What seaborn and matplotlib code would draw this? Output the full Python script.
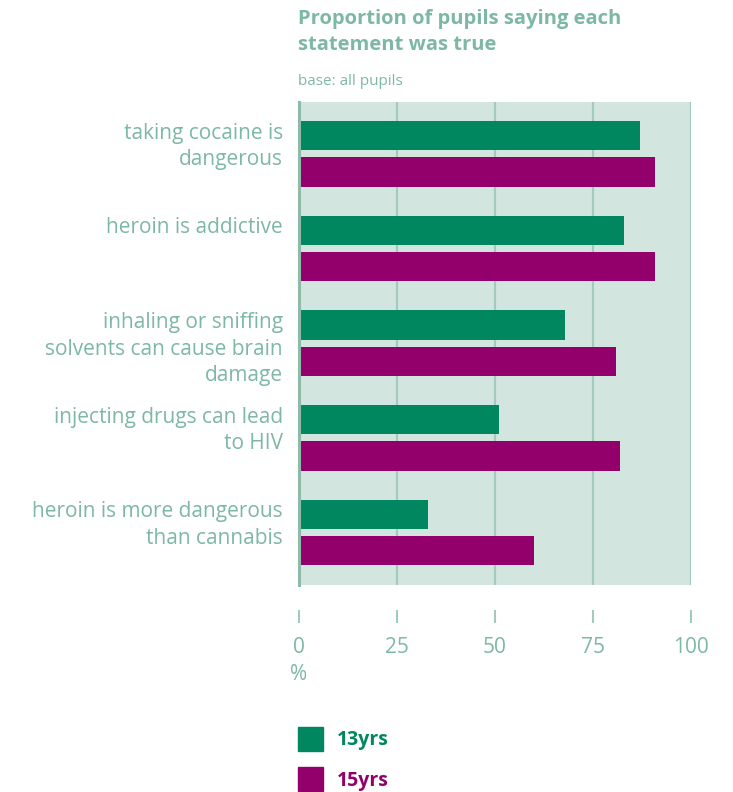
import matplotlib
matplotlib.use("Agg")
import matplotlib.pyplot as plt
from matplotlib.patches import Patch
import seaborn as sns
import pandas as pd

# data
statements = [
    "taking cocaine is\ndangerous",
    "heroin is addictive",
    "inhaling or sniffing\nsolvents can cause brain\ndamage",
    "injecting drugs can lead\nto HIV",
    "heroin is more dangerous\nthan cannabis",
]
pct_13 = [87, 83, 68, 51, 33]
pct_15 = [91, 91, 81, 82, 60]
groups = ["13yrs", "15yrs"]
x_ticks = [0, 25, 50, 75, 100]

TEXT = "#7db8a2"
GREEN = "#00875f"
PURPLE = "#93006b"
BG = "#d2e5df"
GRID = "#a3cbbd"
SPINE = "#8dbba8"

df = pd.DataFrame({
    "statement": statements * 2,
    "age": [groups[0]] * len(statements) + [groups[1]] * len(statements),
    "pct": pct_13 + pct_15,
})

sns.set_style("white")
plt.rcParams["font.family"] = ["Open Sans", "DejaVu Sans"]

fig = plt.figure(figsize=(7.33, 7.92), dpi=100)
ax = fig.add_axes([0.4075, 0.2617, 0.5348, 0.6099])

sns.barplot(data=df, y="statement", x="pct", hue="age", palette=[GREEN, PURPLE],
            width=0.765, gap=0.19, saturation=1, linewidth=0, legend=False, ax=ax)

ax.set_facecolor(BG)
ax.set_axisbelow(True)
ax.grid(axis="x", color=GRID, lw=1.5)
ax.grid(axis="y", visible=False)
ax.set_xlim(0, 100)
ax.set_ylim(len(statements) - 0.45, -0.55)
ax.set_xticks(x_ticks)
ax.set_xlabel("%", color=TEXT, fontsize=15)
ax.xaxis.set_label_coords(0, -0.165)
ax.set_ylabel("")

for s in ["top", "right"]:
    ax.spines[s].set_visible(False)
ax.spines["bottom"].set_position(("outward", 18))
ax.spines["bottom"].set_visible(False)
ax.spines["left"].set_color(SPINE)
ax.spines["left"].set_linewidth(2.2)

ax.tick_params(axis="x", bottom=True, length=9, width=1.5, color=GRID,
               direction="out", pad=10.5, labelsize=15, labelcolor=TEXT)
ax.tick_params(axis="y", length=0, labelleft=False)

# statement labels, first line level with the 13yrs bar
for i, s in enumerate(statements):
    ax.text(-0.04, i - 0.33, s, transform=ax.get_yaxis_transform(),
            ha="right", va="top", fontsize=15, color=TEXT, linespacing=1.36)

fig.text(0.4065, 0.989, "Proportion of pupils saying each\nstatement was true",
         ha="left", va="top", fontsize=14.5, fontweight="bold", color=TEXT,
         linespacing=1.42)
fig.text(0.4065, 0.893, "base: all pupils", ha="left", va="baseline",
         fontsize=11, color=TEXT)

handles = [Patch(color=GREEN), Patch(color=PURPLE)]
leg = ax.legend(handles, groups, loc="upper left", bbox_to_anchor=(0.4065, 0.082),
                bbox_transform=fig.transFigure, frameon=False,
                prop={"weight": "bold", "size": 14}, handlelength=1.3,
                handleheight=1.5, labelspacing=0.85, handletextpad=0.7,
                borderpad=0, borderaxespad=0)
for t, c in zip(leg.get_texts(), [GREEN, PURPLE]):
    t.set_color(c)

fig.savefig("out.png", dpi=100)
